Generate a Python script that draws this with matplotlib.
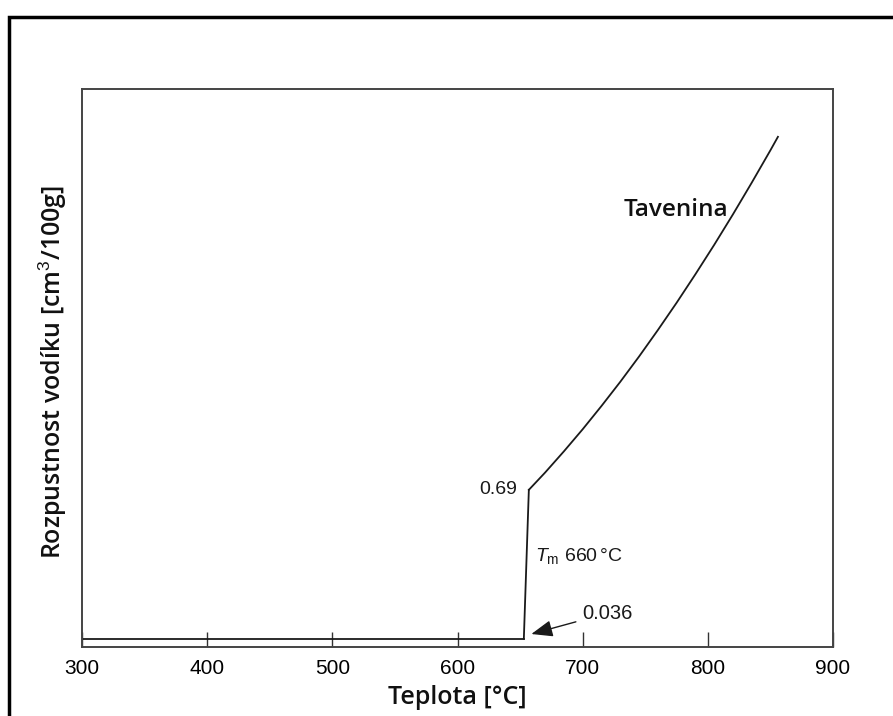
"""Hydrogen solubility in aluminium vs. temperature (schematic)."""
import matplotlib

matplotlib.use("Agg")
import matplotlib.pyplot as plt
from matplotlib.patches import Rectangle

# solid phase: flat at 0.036 up to the melting jump
solid_t = [300, 653]
solid_s = [0.036, 0.036]

# jump at the melting point
jump_t = [653, 657]
jump_s = [0.036, 0.69]

# melt branch
melt_t = [657, 670, 685, 700, 715, 730, 745, 760, 775, 790, 805, 820, 835, 850, 856]
melt_s = [0.690, 0.766, 0.859, 0.956, 1.058, 1.164, 1.275, 1.391, 1.511, 1.636,
          1.765, 1.899, 2.038, 2.181, 2.240]

xticks = [300, 400, 500, 600, 700, 800, 900]

plt.rcParams["mathtext.fontset"] = "custom"
plt.rcParams["mathtext.rm"] = "Liberation Sans"
plt.rcParams["mathtext.it"] = "Liberation Sans:italic"

W, H = 893, 716
fig = plt.figure(figsize=(W / 100, H / 100), dpi=100)
ax = fig.add_axes([82 / W, 1 - 647 / H, (833 - 82) / W, (647 - 89) / H])

line_kw = dict(color="#1a1a1a", lw=1.3, solid_joinstyle="round")
ax.plot(solid_t, solid_s, **line_kw)
ax.plot(jump_t, jump_s, **line_kw)
ax.plot(melt_t, melt_s, **line_kw)

ax.set_xlim(300, 900)
ax.set_ylim(0, 2.45)
ax.set_xticks(xticks)
ax.set_yticks([])
ax.tick_params(axis="x", direction="in", length=11, width=1.0, color="#333333",
               pad=9, labelsize=15)
for lab in ax.get_xticklabels():
    lab.set_family("Liberation Sans")
for sp in ax.spines.values():
    sp.set_color("#444444")
    sp.set_linewidth(1.4)

num_kw = dict(family="Liberation Sans", fontsize=14, color="#1a1a1a")
ax.text(648, 0.69, "0.69", ha="right", va="center", **num_kw)
ax.text(662, 0.40, r"$T_{\rm m}$ 660$\,$°C", ha="left", va="center", **num_kw)
ax.annotate("0.036", xy=(659, 0.057), xytext=(700, 0.149), ha="left", va="center",
            arrowprops=dict(arrowstyle="-|>,head_length=0.9,head_width=0.35",
                            color="#1a1a1a", lw=1.0, shrinkA=3, shrinkB=0),
            fontsize=14.5, family="Liberation Sans", color="#1a1a1a")

ax.text(733, 1.92, "Tavenina", ha="left", va="center", family="Open Sans",
        fontsize=17.5, fontweight="semibold", color="#111111")

lab_kw = dict(family="Open Sans", fontsize=18, fontweight="semibold", color="#111111")
fig.text(457 / W, 1 - 698 / H, "Teplota [°C]", ha="center", va="center", **lab_kw)
fig.text(53 / W, 1 - 372 / H, "Rozpustnost vodíku [cm$^3$/100g]", ha="center",
         va="center", rotation=90, **lab_kw)

# outer frame, open to the right and bottom
fig.patches.append(Rectangle((9 / W, -0.2), 1.2, 1 - 17 / H + 0.2, transform=fig.transFigure,
                             fill=False, edgecolor="black", lw=2.5, zorder=0))

fig.savefig("out.png", dpi=100)
